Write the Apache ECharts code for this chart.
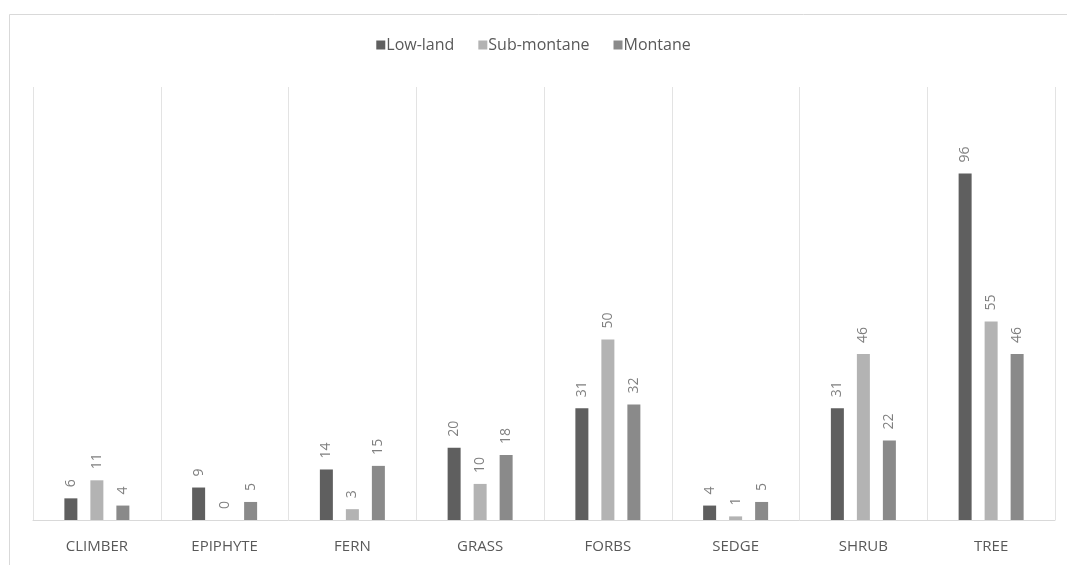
<!DOCTYPE html>
<html>
<head>
<meta charset="utf-8">
<script src="https://cdn.jsdelivr.net/npm/echarts@6/dist/echarts.min.js"></script>
<style>html,body{margin:0;padding:0;background:#fff;}#c{width:1067px;height:565px;}</style>
</head>
<body>
<div id="c"></div>
<script>
const categories = ['CLIMBER', 'EPIPHYTE', 'FERN', 'GRASS', 'FORBS', 'SEDGE', 'SHRUB', 'TREE'];
const seriesNames = ['Low-land', 'Sub-montane', 'Montane'];
const lowland = [6, 9, 14, 20, 31, 4, 31, 96];
const submontane = [11, 0, 3, 10, 50, 1, 46, 55];
const montane = [4, 5, 15, 18, 32, 5, 22, 46];
const colors = ['#5f5f5f', '#b3b3b3', '#8a8a8a'];

const font = '"Liberation Sans Narrow", "Open Sans", sans-serif';
const chart = echarts.init(document.getElementById('c'), null, {renderer: 'canvas'});
function mk(name, data, color) {
  return {
    name: name, type: 'bar', data: data, barWidth: 13, barGap: '100%',
    itemStyle: {color: color},
    label: {show: true, position: 'top', rotate: 90, distance: 11, align: 'left', verticalAlign: 'middle',
      color: '#808080', fontSize: 14, fontFamily: font}
  };
}
chart.setOption({
  animation: false,
  backgroundColor: '#fff',
  graphic: [{type: 'rect', left: 7, top: 12, shape: {width: 1070, height: 570},
    style: {fill: 'none', stroke: '#d9d9d9', lineWidth: 1}}],
  legend: {top: 32, left: 'center', itemWidth: 9, itemHeight: 9, itemGap: 24,
    icon: 'rect', data: seriesNames,
    textStyle: {color: '#595959', fontSize: 16, fontFamily: font, padding: [0, 0, 0, -4]}},
  grid: {left: 33, right: 12, top: 87, bottom: 45},
  xAxis: {type: 'category', data: categories,
    axisLine: {lineStyle: {color: '#d9d9d9'}}, axisTick: {show: false},
    splitLine: {show: true, lineStyle: {color: '#e3e3e3'}},
    axisLabel: {color: '#595959', fontSize: 15, margin: 19, fontFamily: font}},
  yAxis: {type: 'value', min: 0, max: 120, show: false, splitLine: {show: false}},
  series: [mk(seriesNames[0], lowland, colors[0]), mk(seriesNames[1], submontane, colors[1]), mk(seriesNames[2], montane, colors[2])]
});
</script>
</body>
</html>
